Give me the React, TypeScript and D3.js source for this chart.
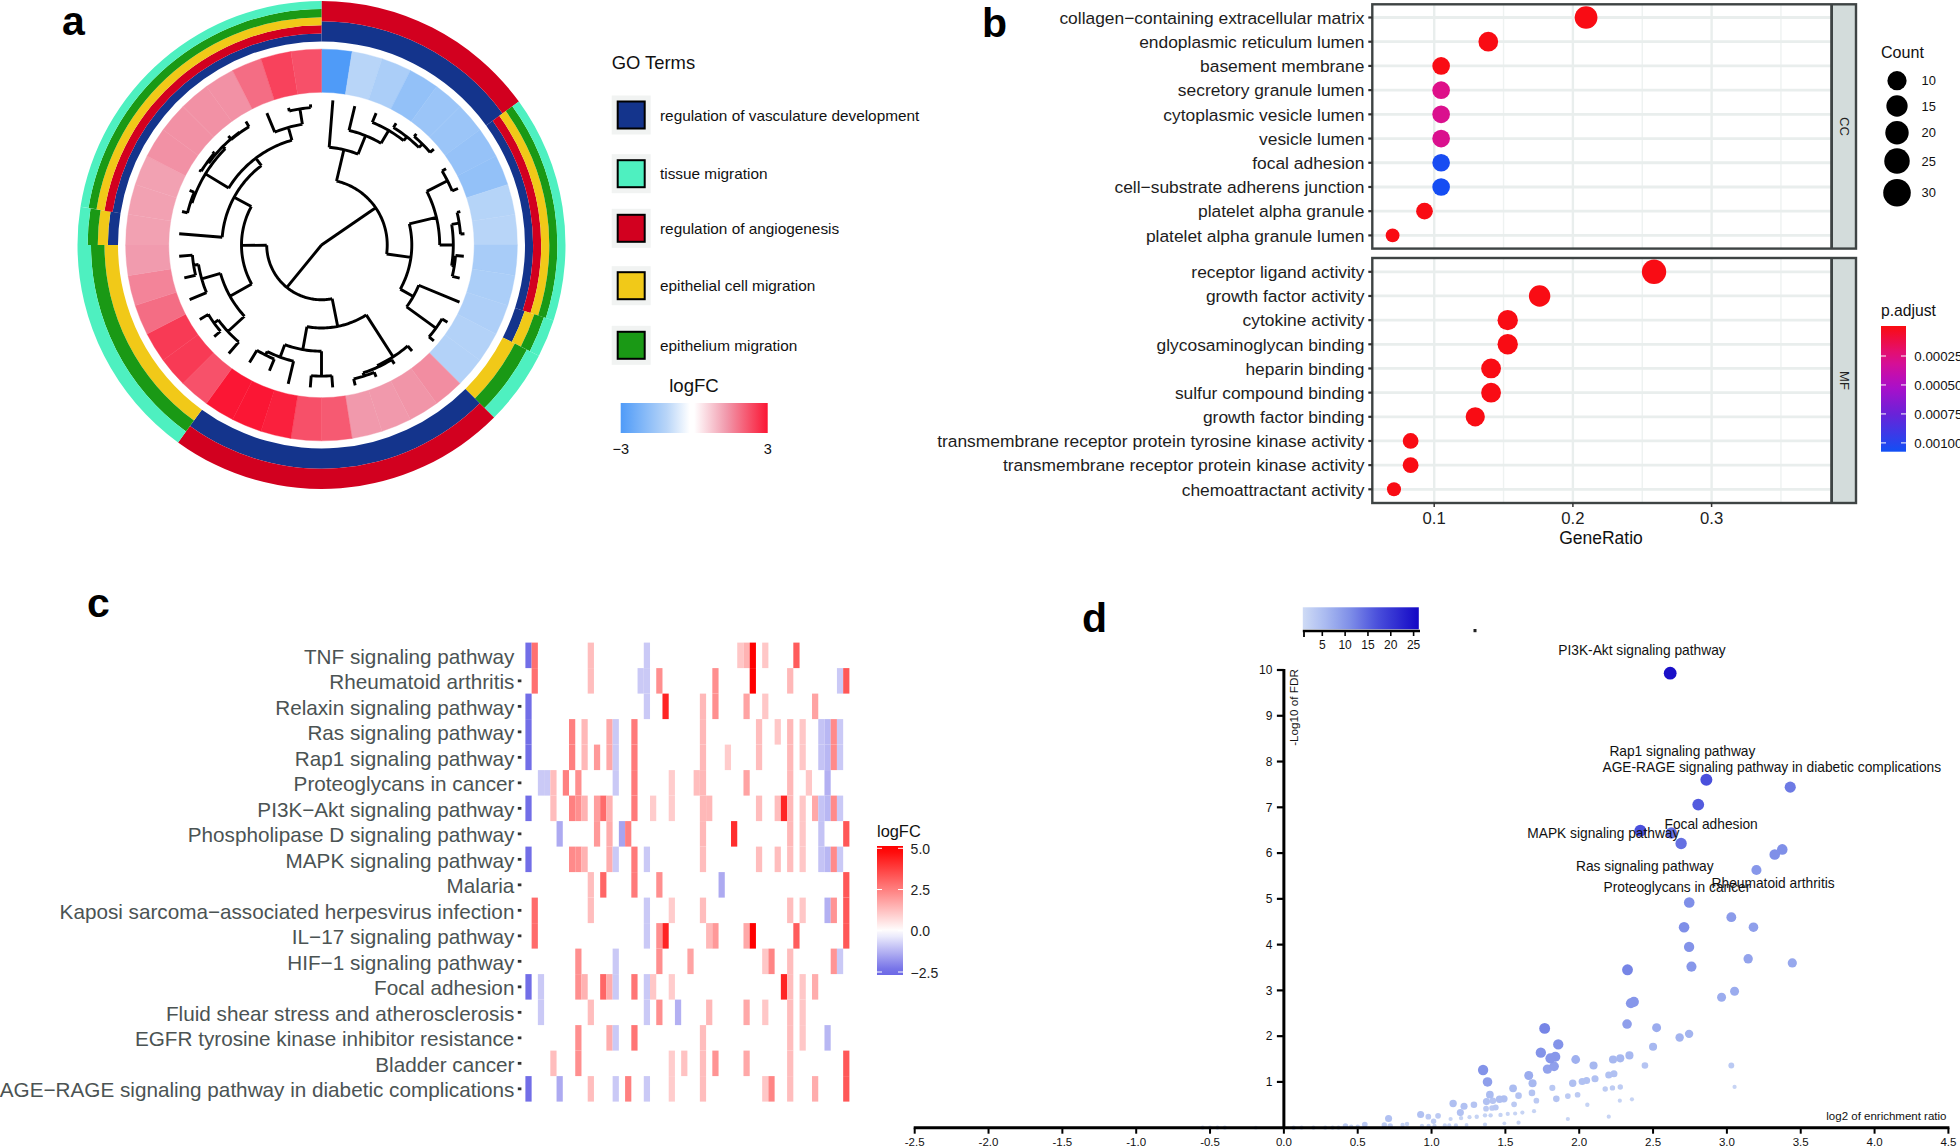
import React from "react";
import * as d3 from "d3";

const FONT = "'Liberation Sans', Arial, sans-serif";

/* ---------- panel a data ---------- */
const goTerms = ["regulation of vasculature development", "tissue migration", "regulation of angiogenesis", "epithelial cell migration", "epithelium migration"];
const goColors = ["#14348c", "#4ef0c0", "#d2001f", "#f1c918", "#1a9915"];
const ringOrder = [0, 2, 3, 4, 1];
const geneLogFC = [-3, -1.0, -1.25, -1.7, -1.55, -1.55, -1.65, -1.7, -1.05, -1.0, -1.3, -1.25, -1.2, -1.1, -1.1,
  1.45, 1.35, 1.3, 1.3, 2.12, 2.25, 2.87, 3, 3, 2.24, 2.53, 2.53, 1.87, 1.57, 1.27, 1.2, 1.2, 1.2, 1.4, 1.4, 1.4, 1.4, 1.87, 2.43, 2.25];
const geneTermRuns: [number, number[]][] = [
  [6, [0, 2]], [6, [0, 2, 3, 4, 1]], [1, [0, 3, 4, 1]], [2, [3, 4, 1]], [9, [0, 2]], [6, [3, 4, 1]], [1, [0, 3, 4, 1]], [9, [0, 2, 3, 4, 1]],
];
const leaf = (g: number, h: number) => ({ g, h });
const node = (h: number, ...c: any[]) => ({ h, c });
const dendrogram = node(0,
  node(198,
    node(295, leaf(0, 437),
      node(355, leaf(1, 430),
        node(400, leaf(2, 430),
          node(415, leaf(3, 430), node(430, leaf(4, 440), leaf(5, 445)))))),
    node(272,
      node(356,
        node(426, leaf(6, 440), leaf(7, 445)),
        node(397, node(420, leaf(8, 430), leaf(9, 432)), node(405, leaf(10, 430), leaf(11, 428)))),
      node(317, leaf(12, 450), node(426, leaf(13, 445), leaf(14, 445))))),
  node(165,
    node(250,
      node(400, leaf(15, 420), node(405, leaf(16, 420), node(415, leaf(17, 430), leaf(18, 435)))),
      node(320, node(395, leaf(19, 430), leaf(20, 430)), node(360, leaf(21, 430), node(372, leaf(22, 410), leaf(23, 415))))),
    node(241,
      node(316,
        node(384, leaf(24, 430), node(400, leaf(25, 425), leaf(26, 430))),
        node(375, leaf(27, 430), node(390, leaf(28, 425), leaf(29, 430)))),
      node(300, leaf(30, 430),
        node(328,
          node(410, node(415, leaf(31, 432), leaf(32, 430)), node(420, node(425, leaf(33, 432), leaf(34, 432)), node(418, leaf(35, 432), leaf(36, 436)))),
          node(368, leaf(37, 430), node(415, leaf(38, 425), leaf(39, 425))))))));

/* ---------- panel b data ---------- */
const ccTerms = ["collagen\u2212containing extracellular matrix", "endoplasmic reticulum lumen", "basement membrane", "secretory granule lumen", "cytoplasmic vesicle lumen", "vesicle lumen", "focal adhesion", "cell\u2212substrate adherens junction", "platelet alpha granule", "platelet alpha granule lumen"];
const ccRatio = [0.2095, 0.139, 0.105, 0.105, 0.105, 0.105, 0.105, 0.105, 0.093, 0.07];
const ccP = [0, 0, 0, 0.00027, 0.00029, 0.00029, 0.00105, 0.00106, 0, 0];
const mfTerms = ["receptor ligand activity", "growth factor activity", "cytokine activity", "glycosaminoglycan binding", "heparin binding", "sulfur compound binding", "growth factor binding", "transmembrane receptor protein tyrosine kinase activity", "transmembrane receptor protein kinase activity", "chemoattractant activity"];
const mfRatio = [0.2585, 0.176, 0.153, 0.153, 0.141, 0.141, 0.1296, 0.083, 0.083, 0.071];
const mfP = [0, 0, 0, 0, 0, 0, 0, 0, 0, 0];
const ratioTicks = [0.1, 0.2, 0.3];
const ratioMinor = [0.15, 0.25, 0.35];
const countLegend = [10, 15, 20, 25, 30];
const pTicks = [0.00025, 0.0005, 0.00075, 0.001];
const pTickLabels = ["0.00025", "0.00050", "0.00075", "0.00100"];

/* ---------- panel c data ---------- */
const pathways = ["TNF signaling pathway", "Rheumatoid arthritis", "Relaxin signaling pathway", "Ras signaling pathway", "Rap1 signaling pathway", "Proteoglycans in cancer", "PI3K\u2212Akt signaling pathway", "Phospholipase D signaling pathway", "MAPK signaling pathway", "Malaria", "Kaposi sarcoma\u2212associated herpesvirus infection", "IL\u221217 signaling pathway", "HIF\u22121 signaling pathway", "Focal adhesion", "Fluid shear stress and atherosclerosis", "EGFR tyrosine kinase inhibitor resistance", "Bladder cancer", "AGE\u2212RAGE signaling pathway in diabetic complications"];
const pathwayCells: [number, number][][] = [
  [[0, -2.4], [1, 2.8], [10, 1.3], [19, -0.9], [34, 1.1], [35, 1.5], [36, 5], [38, 1.1], [43, 3.2]],
  [[1, 2.8], [10, 1.3], [18, -0.9], [19, -0.9], [21, 2.2], [30, 2.2], [36, 5], [42, 1.4], [50, -0.9], [51, 3.3]],
  [[0, -2.4], [19, -0.9], [22, 4.3], [28, 1.4], [30, 2.2], [35, 1.8], [38, 1.1], [46, 1.8]],
  [[0, -2.4], [7, 2.5], [9, 1.4], [13, 1.7], [14, -0.9], [17, 2.6], [28, 1.4], [37, 1.3], [40, 1.1], [42, 1.4], [44, 1.1], [47, -1.0], [48, -1.2], [49, 2.3], [50, -0.9]],
  [[0, -2.4], [7, 2.5], [9, 1.4], [11, 2.0], [13, 1.7], [14, -0.9], [17, 2.6], [28, 1.4], [32, 1.0], [37, 1.3], [42, 1.4], [44, 1.1], [47, -1.0], [48, -1.2], [49, 2.3], [50, -0.9]],
  [[2, -0.9], [3, -0.9], [4, 1.3], [6, 2.5], [8, 2.2], [14, -0.9], [17, 2.6], [23, 1.0], [27, 1.3], [28, 1.4], [35, 1.8], [42, 1.4], [45, 1.1], [48, -1.3]],
  [[0, -2.4], [4, 1.3], [7, 2.5], [8, 2.2], [9, 1.5], [11, 1.9], [12, 2.9], [13, 1.5], [17, 2.6], [20, 1.0], [23, 1.0], [28, 1.4], [29, 1.4], [37, 1.3], [40, 1.3], [41, 4.3], [42, 1.4], [44, 1.1], [46, 1.7], [47, -1.0], [48, -1.2], [49, 2.3], [50, -0.9]],
  [[5, -1.4], [11, 2.0], [13, 1.6], [15, -1.5], [16, 2.5], [28, 1.4], [33, 4.1], [42, 1.4], [44, 1.1], [47, -1.0], [51, 3.3]],
  [[0, -2.4], [7, 2.3], [8, 2.2], [9, 1.5], [13, 1.6], [14, -0.9], [17, 2.6], [19, -0.9], [28, 1.3], [37, 1.3], [40, 1.3], [42, 1.3], [44, 1.1], [47, -1.0], [48, -1.2], [49, 2.3], [50, -0.9]],
  [[10, 1.3], [12, 3.0], [17, 2.6], [21, 2.2], [31, -1.4], [51, 3.3]],
  [[1, 2.9], [10, 1.3], [19, -0.9], [23, 1.0], [28, 1.3], [42, 1.3], [44, 1.1], [48, -1.3], [49, 2.1], [51, 3.3]],
  [[1, 2.9], [19, -0.9], [21, 2.2], [22, 4.3], [29, 1.4], [30, 2.0], [35, 1.7], [36, 5], [43, 3.2], [51, 3.3]],
  [[8, 2.2], [14, -0.9], [21, 2.2], [26, 1.8], [38, 1.1], [39, 2.4], [42, 1.3], [49, 2.1], [50, -0.9]],
  [[0, -2.4], [2, -0.9], [8, 2.2], [9, 1.5], [12, 3.0], [13, 1.6], [14, -0.9], [17, 2.7], [19, -0.9], [20, 1.1], [23, 1.0], [41, 4.3], [42, 1.3], [44, 1.1], [46, 1.6]],
  [[2, -0.9], [10, 1.3], [19, -0.9], [21, 2.2], [24, -1.3], [29, 1.4], [35, 1.7], [38, 1.1], [42, 1.3], [44, 1.1]],
  [[8, 2.2], [13, 1.6], [14, -0.9], [17, 2.7], [28, 1.3], [42, 1.3], [44, 1.1], [48, -1.2]],
  [[4, 1.3], [8, 2.2], [23, 1.0], [25, 1.2], [28, 1.3], [30, 2.1], [35, 1.7], [42, 1.3], [51, 3.3]],
  [[0, -2.4], [5, -1.4], [10, 1.3], [14, -0.9], [16, 2.5], [19, -0.9], [23, 1.0], [28, 1.3], [38, 1.1], [39, 2.4], [42, 1.3], [46, 1.6], [51, 3.3]],
];
const heatColumns = d3.range(52);
const heatLegendTicks = [5, 2.5, 0, -2.5];

/* ---------- panel d data: enrichment ratio, -log10 FDR, count ---------- */
const enrichmentPoints: [number, number, number][] = [
  [2.616, 9.93, 25], [2.861, 7.6, 17], [3.429, 7.44, 13], [2.806, 7.06, 16], [2.414, 6.49, 17], [2.624, 6.44, 14], [2.69, 6.21, 14], [3.375, 6.08, 11], [3.324, 5.97, 11], [3.2, 5.63, 10], [2.745, 4.92, 11],
  [3.03, 4.6, 9.5], [2.71, 4.38, 11], [3.18, 4.38, 9], [2.744, 3.95, 10.5], [3.144, 3.69, 8.5], [3.443, 3.6, 8], [2.76, 3.52, 10], [2.327, 3.45, 12], [3.052, 2.98, 7.5], [2.964, 2.85, 7.5], [2.37, 2.75, 10], [2.35, 2.72, 10], [2.324, 2.265, 9], [2.524, 2.185, 7.5], [1.766, 2.17, 12], [2.744, 2.05, 6.5], [2.68, 1.97, 6.5], [1.858, 1.82, 10.5], [2.5, 1.77, 6], [1.74, 1.64, 10.5], [1.838, 1.55, 10], [1.805, 1.515, 10], [2.34, 1.58, 6], [2.278, 1.515, 6], [2.229, 1.49, 6], [1.976, 1.49, 7], [2.097, 1.36, 6], [2.445, 1.36, 4.2], [3.03, 1.36, 3.5], [1.83, 1.34, 9], [1.785, 1.28, 8.5], [1.349, 1.26, 10.5],
  [2.235, 1.18, 4.7], [2.2, 1.15, 4.7], [1.658, 1.14, 7.5], [2.107, 1.07, 4.7], [2.05, 1.03, 4.7], [2.02, 1.01, 4.7], [1.379, 1.0, 9], [1.956, 0.97, 5], [1.684, 0.97, 6], [3.052, 0.89, 1.8], [2.278, 0.89, 3], [2.225, 0.87, 3], [2.176, 0.845, 3], [1.818, 0.87, 3.7], [1.552, 0.86, 5.5], [1.68, 0.76, 4.2], [1.395, 0.72, 5.5], [1.589, 0.7, 4.2], [1.989, 0.72, 3.3], [1.923, 0.69, 3.3],
  [1.49, 0.63, 5], [1.46, 0.62, 5], [1.845, 0.63, 4.2], [1.415, 0.59, 4.2], [1.372, 0.57, 4.7], [1.71, 0.59, 3.3], [2.357, 0.62, 1.8], [2.275, 0.59, 1.8], [1.146, 0.53, 5], [1.559, 0.51, 3.3], [2.055, 0.5, 2], [1.22, 0.47, 4.7], [1.287, 0.5, 4.2], [1.434, 0.44, 3.7], [1.369, 0.415, 3.3], [1.41, 0.43, 3.3], [1.694, 0.36, 1.8], [1.615, 0.33, 1.8], [1.566, 0.31, 1.8], [1.516, 0.3, 1.8], [1.467, 0.28, 2], [1.195, 0.33, 4.7], [0.926, 0.29, 4.7], [1.044, 0.26, 3.3], [0.978, 0.24, 3.3], [1.4, 0.27, 2], [1.362, 0.27, 2], [1.306, 0.24, 2], [1.257, 0.23, 1.8], [1.2, 0.21, 2], [1.129, 0.19, 1.8], [0.709, 0.2, 4.7], [2.2, 0.24, 1.8], [1.923, 0.19, 1.8], [1.014, 0.14, 3], [1.589, 0.11, 1.8], [1.493, 0.095, 1.4], [1.362, 0.07, 1.8], [1.237, 0.06, 1.4], [1.165, 0.05, 1.8], [1.12, 0.05, 1.8], [1.09, 0.05, 1.8], [1.02, 0.04, 1.8], [0.98, 0.04, 1.8], [0.935, 0.04, 1.8], [0.834, 0.08, 2], [0.804, 0.06, 2], [0.72, 0.04, 3], [0.68, 0.06, 3], [0.548, 0.07, 3.3], [0.5, 0.02, 2], [0.456, 0.02, 2], [0.417, 0.04, 3],
  [0.066, 0, 2], [0.12, 0, 1.8], [0.2, 0, 1.8], [0.28, 0, 1.8], [0.33, 0, 1.8], [0.37, 0, 1.8], [-0.19, 0, 1.4], [-0.4, 0, 1.8], [-0.45, 0, 1.8], [-0.5, 0, 1.8], [-0.55, 0, 1.8],
];
const pointLabels: [string, number, number][] = [
  ["PI3K-Akt signaling pathway", 1558.3, 654.6],
  ["Rap1 signaling pathway", 1609.4, 756.3],
  ["AGE-RAGE signaling pathway in diabetic complications", 1602.5, 772.3],
  ["Focal adhesion", 1664.5, 829],
  ["MAPK signaling pathway", 1527.3, 838],
  ["Ras signaling pathway", 1576, 871],
  ["Rheumatoid arthritis", 1711.6, 887.5],
  ["Proteoglycans in cancer", 1603.6, 891.8],
];
const enrichTicks = d3.range(-2.5, 4.51, 0.5);
const fdrTicks = d3.range(1, 11);
const countTicksD = [5, 10, 15, 20, 25];

/* ---------- scales ---------- */
const cx = 321.5, cy = 245;
const rA = d3.scaleLinear().domain([0, 735]).range([0, 244]);
const colorA = d3.scaleLinear<string>().domain([-3, -1, 0, 1.3, 3]).range(["#4f9bf8", "#b8d5f8", "#ffffff", "#f199ac", "#fb1634"]);
const xB = d3.scaleLinear().domain([0.1, 0.3]).range([1434.2, 1711.6]);
const yCC = d3.scalePoint<string>().domain(ccTerms).range([17.5, 235.4]);
const yMF = d3.scalePoint<string>().domain(mfTerms).range([271.8, 489.3]);
const sizeB = d3.scaleSqrt().domain([0, 23]).range([6.1, 12.2]);
const sizeLegend = d3.scaleLinear().domain([10, 30]).range([9.6, 13.8]);
const colorP = d3.scaleLinear<string>().domain([0, 0.00027, 0.0005, 0.00075, 0.00108]).range(["#f90c14", "#de1089", "#b00dc8", "#6a22d8", "#1050f5"]);
const yPbar = d3.scaleLinear().domain([0.00025, 0.001]).range([356, 442.9]);
const xC = d3.scaleBand<number>().domain(heatColumns).range([525.4, 849.4]);
const yC = d3.scaleBand<string>().domain(pathways).range([642.6, 1101.6]);
const colorC = d3.scaleLinear<string>().domain([-2.5, 0, 5]).range(["#6c68e6", "#ffffff", "#ff0000"]).clamp(true);
const yLegC = d3.scaleLinear().domain([-2.5, 5]).range([972, 848.3]);
const xD = d3.scaleLinear().domain([-2.5, 4.5]).range([914.7, 1948.4]);
const yD = d3.scaleLinear().domain([0, 10]).range([1127.7, 670]);
const sizeD = d3.scaleLinear().domain([1, 2, 3, 4.2, 5, 7, 9, 11, 14, 17, 25]).range([1.7, 2.2, 2.7, 3.3, 3.7, 4.4, 4.8, 5.3, 5.7, 6, 6.4]);
const colorD = d3.scaleLinear<string>().domain([1, 5.5, 11, 17, 25]).range(["#cdd9f5", "#abbcf1", "#7f8fe8", "#4a50dc", "#1a10c8"]);
const xLegD = d3.scaleLinear().domain([5, 25]).range([1322.3, 1413.6]);

const geneAngle = (i: number) => ((i + 0.5) * 9 * Math.PI) / 180;

function PanelA() {
  const arc = d3.arc<any>();
  const step = (2 * Math.PI) / geneLogFC.length;
  const ringIn = rA(613), ringOut = rA(735);
  const root = d3.hierarchy<any>(dendrogram, (d: any) => d.c);
  root.eachAfter((n: any) => {
    if (!n.children) n.a = geneAngle(n.data.g);
    else {
      const as = n.children.map((c: any) => c.a);
      n.a0 = d3.min(as); n.a1 = d3.max(as); n.a = (n.a0 + n.a1) / 2;
    }
  });
  const paths: string[] = [];
  const pt = (a: number, r: number) => `${rA(r) * Math.sin(a)},${-rA(r) * Math.cos(a)}`;
  root.each((n: any) => {
    if (n.children && n.data.h > 0) {
      const as = d3.range(n.a0, n.a1 + 0.001, 0.02);
      as.push(n.a1);
      paths.push("M" + as.map((a: number) => pt(a, n.data.h)).join("L"));
    }
    if (n.parent) paths.push(`M${pt(n.a, n.parent.data.h)}L${pt(n.a, n.data.h)}`);
  });
  const barX = d3.scaleLinear().domain([0, 1]).range([620.7, 767.7]);
  const barStops: [number, number][] = [[0, -3], [0.313, -1], [0.47, 0], [0.5, 0], [0.72, 1.3], [1, 3]];
  let start = 0;
  const runs = geneTermRuns.map(([n, terms]) => {
    const r = { s: start, e: start + n, terms };
    start += n;
    return r;
  });
  return (
    <g>
      <g transform={`translate(${cx},${cy})`}>
        {geneLogFC.map((v, i) => (
          <path key={i} fill={colorA(v)} d={arc({ innerRadius: rA(460), outerRadius: rA(590), startAngle: i * step, endAngle: (i + 1) * step })!} stroke={colorA(v)} strokeWidth={0.4} />
        ))}
        {runs.map((run, i) => {
          const ordered = ringOrder.filter((t) => run.terms.includes(t));
          const w = (ringOut - ringIn) / ordered.length;
          return ordered.map((t, k) => (
            <path key={`${i}-${t}`} fill={goColors[t]} d={arc({ innerRadius: ringIn + k * w, outerRadius: ringIn + (k + 1) * w, startAngle: run.s * step, endAngle: run.e * step })!} />
          ));
        })}
        <path d={paths.join("")} fill="none" stroke="#000" strokeWidth={2.9} strokeLinecap="butt" strokeLinejoin="miter" />
      </g>
      <text x={611.7} y={69} fontSize={18.4} fill="#111">GO Terms</text>
      {[115, 173.7, 228.3, 285.7, 345.3].map((y, i) => (
        <g key={i}>
          <rect x={611.7} y={y - 19.5} width={39} height={39} fill="#f1f3f2" />
          <rect x={617.7} y={y - 13.5} width={27} height={27} fill={goColors[i]} stroke="#000" strokeWidth={2} />
          <text x={660} y={y + 5.5} fontSize={15.35} fill="#111">{goTerms[i]}</text>
        </g>
      ))}
      <text x={694} y={392} fontSize={18.6} textAnchor="middle" fill="#111">logFC</text>
      <defs>
        <linearGradient id="gradA">
          {barStops.map(([o, v]) => <stop key={o} offset={o} stopColor={colorA(v)} />)}
        </linearGradient>
      </defs>
      <rect x={barX(0)} y={403} width={barX(1) - barX(0)} height={30} fill="url(#gradA)" />
      <text x={barX(0)} y={454} fontSize={14.5} textAnchor="middle" fill="#111">{"\u22123"}</text>
      <text x={barX(1)} y={454} fontSize={14.5} textAnchor="middle" fill="#111">3</text>
    </g>
  );
}

function PanelB() {
  const panelX0 = 1372.3, panelX1 = 1831.6, stripX1 = 1856;
  const labelFont = 17.4;
  const facet = (terms: string[], ratio: number[], pv: number[], y: d3.ScalePoint<string>, top: number, bottom: number, strip: string) => (
    <g key={strip}>
      <rect x={panelX1} y={top} width={stripX1 - panelX1} height={bottom - top} fill="#d3dcdb" />
      {ratioMinor.map((t) => <line key={t} x1={xB(t)} x2={xB(t)} y1={top} y2={bottom} stroke="#eef2f1" strokeWidth={1.4} />)}
      {ratioTicks.map((t) => <line key={t} x1={xB(t)} x2={xB(t)} y1={top} y2={bottom} stroke="#e9eeed" strokeWidth={2.4} />)}
      {terms.map((t) => <line key={t} x1={panelX0} x2={panelX1} y1={y(t)!} y2={y(t)!} stroke="#e9eeed" strokeWidth={2.8} />)}
      {terms.map((t, i) => {
        const r = sizeB(ratio[i] * 120 - 8 > 0 ? ratio[i] * 120 - 8 : 0);
        return <circle key={t} cx={xB(ratio[i])} cy={y(t)!} r={r} fill={colorP(pv[i])} />;
      })}
      <rect x={panelX0} y={top} width={stripX1 - panelX0} height={bottom - top} fill="none" stroke="#3e4444" strokeWidth={2.4} />
      <line x1={panelX1} x2={panelX1} y1={top} y2={bottom} stroke="#3e4444" strokeWidth={2.8} />
      {terms.map((t) => (
        <g key={t}>
          <line x1={panelX0 - 4} x2={panelX0} y1={y(t)!} y2={y(t)!} stroke="#333" strokeWidth={2.2} />
          <text x={1364.4} y={y(t)! + 6.3} textAnchor="end" fontSize={labelFont} fill="#1d1d1d">{t}</text>
        </g>
      ))}
      <text transform={`translate(${1844},${(top + bottom) / 2}) rotate(90)`} textAnchor="middle" dy={4.5} fontSize={13} fill="#222">{strip}</text>
    </g>
  );
  return (
    <g>
      <defs>
        <linearGradient id="gradP" x1="0" y1="0" x2="0" y2="1">
          {d3.range(0, 1.001, 0.1).map((o) => <stop key={o} offset={o} stopColor={colorP(yPbar.invert(326 + o * 125.7))} />)}
        </linearGradient>
      </defs>
      {facet(ccTerms, ccRatio, ccP, yCC, 4.3, 248.6, "CC")}
      {facet(mfTerms, mfRatio, mfP, yMF, 258, 503, "MF")}
      {ratioTicks.map((t) => (
        <g key={t}>
          <line x1={xB(t)} x2={xB(t)} y1={503} y2={507} stroke="#333" strokeWidth={1.5} />
          <text x={xB(t)} y={524} textAnchor="middle" fontSize={16.7} fill="#1d1d1d">{t.toFixed(1)}</text>
        </g>
      ))}
      <text x={1601} y={544} textAnchor="middle" fontSize={17.5} fill="#111">GeneRatio</text>
      <text x={1881} y={58.3} fontSize={16.1} fill="#111">Count</text>
      {countLegend.map((c, i) => {
        const y = [80.7, 106, 132.7, 161, 192.7][i];
        return (
          <g key={c}>
            <circle cx={1897} cy={y} r={sizeLegend(c)} fill="#000" />
            <text x={1921.6} y={y + 4.7} fontSize={12.9} fill="#111">{c}</text>
          </g>
        );
      })}
      <text x={1881} y={316} fontSize={15.7} fill="#111">p.adjust</text>
      <rect x={1881} y={326} width={25} height={125.7} fill="url(#gradP)" />
      {pTicks.map((t, i) => (
        <g key={t}>
          <line x1={1881} x2={1886} y1={yPbar(t)} y2={yPbar(t)} stroke="#fff" strokeWidth={1} />
          <line x1={1901} x2={1906} y1={yPbar(t)} y2={yPbar(t)} stroke="#fff" strokeWidth={1} />
          <text x={1914.3} y={yPbar(t) + 4.8} fontSize={13.3} fill="#111">{pTickLabels[i]}</text>
        </g>
      ))}
    </g>
  );
}

function PanelC() {
  return (
    <g>
      {pathways.map((p, r) => (
        <g key={p}>
          {pathwayCells[r].map(([c, v]) => (
            <rect key={c} x={xC(c)!} y={yC(p)!} width={xC.bandwidth()} height={yC.bandwidth()} fill={colorC(v)} />
          ))}
          {r > 0 && <rect x={517.8} y={yC(p)! + yC.bandwidth() / 2 - 1.4} width={3.6} height={2.8} fill="#333" />}
          <text x={514.4} y={yC(p)! + yC.bandwidth() / 2 + 8.2} textAnchor="end" fontSize={20.7} fill="#4b5353">{p}</text>
        </g>
      ))}
      <text x={877} y={837} fontSize={16.4} fill="#111">logFC</text>
      <defs>
        <linearGradient id="gradC" x1="0" y1="0" x2="0" y2="1">
          {d3.range(0, 1.001, 0.05).map((o) => <stop key={o} offset={o} stopColor={colorC(yLegC.invert(846 + o * 129))} />)}
        </linearGradient>
      </defs>
      <rect x={877} y={846} width={26} height={129} fill="url(#gradC)" />
      {heatLegendTicks.map((t) => (
        <g key={t}>
          <line x1={877} x2={882} y1={yLegC(t)} y2={yLegC(t)} stroke="#fff" strokeWidth={1} />
          <line x1={898} x2={903} y1={yLegC(t)} y2={yLegC(t)} stroke="#fff" strokeWidth={1} />
          <text x={910.6} y={yLegC(t) + 5.5} fontSize={14} fill="#222">{t === -2.5 ? "\u22122.5" : t.toFixed(1)}</text>
        </g>
      ))}
    </g>
  );
}

function PanelD() {
  const sorted = [...enrichmentPoints].sort((a, b) => a[2] - b[2]);
  return (
    <g>
      <defs>
        <linearGradient id="gradD">
          {d3.range(0, 1.001, 0.05).map((o) => <stop key={o} offset={o} stopColor={colorD(xLegD.invert(1302.8 + o * 116))} />)}
        </linearGradient>
      </defs>
      <rect x={1302.8} y={607.3} width={116} height={22} fill="url(#gradD)" />
      <line x1={1302.8} x2={1420} y1={631} y2={631} stroke="#000" strokeWidth={2.6} />
      <line x1={1304} x2={1304} y1={630} y2={637} stroke="#000" strokeWidth={1.8} />
      {countTicksD.map((t) => (
        <g key={t}>
          <line x1={xLegD(t)} x2={xLegD(t)} y1={630} y2={636} stroke="#000" strokeWidth={1.6} />
          <text x={xLegD(t)} y={649} textAnchor="middle" fontSize={12} fill="#111">{t}</text>
        </g>
      ))}
      <rect x={1473.5} y={629} width={3} height={3.2} fill="#222" />
      {sorted.map((d, i) => <circle key={i} cx={xD(d[0])} cy={yD(d[1])} r={sizeD(d[2])} fill={colorD(d[2])} />)}
      <line x1={xD(0)} x2={xD(0)} y1={yD(10) - 1} y2={yD(0)} stroke="#000" strokeWidth={3} />
      <line x1={xD(-2.5) - 1} x2={xD(4.5) + 1} y1={yD(0)} y2={yD(0)} stroke="#000" strokeWidth={3} />
      {enrichTicks.map((t) => (
        <g key={t}>
          <line x1={xD(t)} x2={xD(t)} y1={yD(0)} y2={yD(0) + 6} stroke="#000" strokeWidth={2} />
          <text x={xD(t)} y={1145.5} textAnchor="middle" fontSize={11.5} fill="#111">{t.toFixed(1)}</text>
        </g>
      ))}
      {fdrTicks.map((t) => (
        <g key={t}>
          <line x1={xD(0) - 7} x2={xD(0)} y1={yD(t)} y2={yD(t)} stroke="#000" strokeWidth={2.2} />
          <text x={1272.4} y={yD(t) + 4.3} textAnchor="end" fontSize={12} fill="#111">{t}</text>
        </g>
      ))}
      <text transform={`translate(${1298},${707.5}) rotate(-90)`} textAnchor="middle" fontSize={11.7} fill="#111">-Log10 of FDR</text>
      <text x={1946.5} y={1120} textAnchor="end" fontSize={11.5} fill="#111">log2 of enrichment ratio</text>
      {pointLabels.map(([t, x, y]) => <text key={t} x={x} y={y} fontSize={13.75} fill="#111">{t}</text>)}
    </g>
  );
}

export default function App() {
  return (
    <svg width={1960} height={1147} viewBox="0 0 1960 1147" style={{ position: "absolute", left: 0, top: 0, background: "#fff", fontFamily: FONT }}>
      <PanelA />
      <PanelB />
      <PanelC />
      <PanelD />
      <g fontSize={41} fontWeight="bold" fill="#000">
        <text x={62} y={35}>a</text>
        <text x={982} y={37}>b</text>
        <text x={87} y={617}>c</text>
        <text x={1082} y={632}>d</text>
      </g>
    </svg>
  );
}
